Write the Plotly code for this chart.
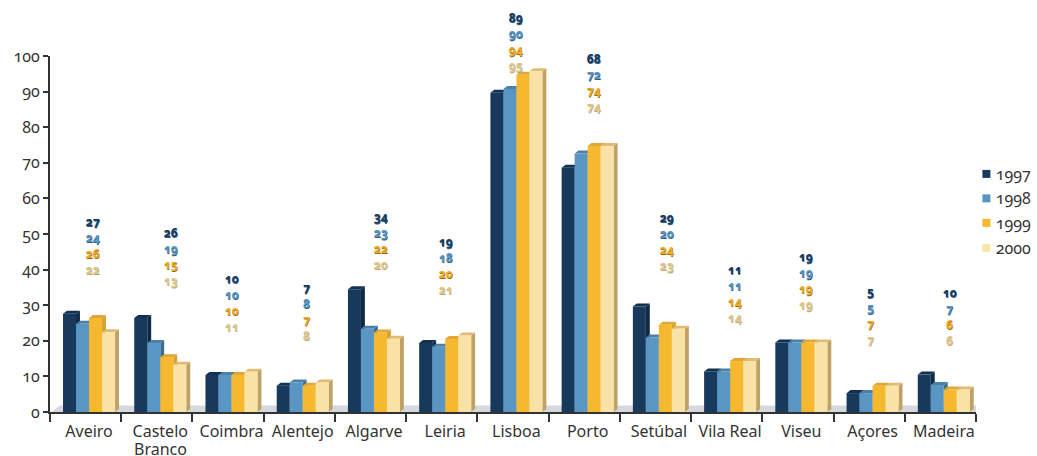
import plotly.graph_objects as go

categories = ["Aveiro", "Castelo", "Coimbra", "Alentejo", "Algarve", "Leiria", "Lisboa",
              "Porto", "Setúbal", "Vila Real", "Viseu", "Açores", "Madeira"]
years = ["1997", "1998", "1999", "2000"]

v1997 = [27.6, 26.4, 10.4, 7.4, 34.5, 19.4, 89.7, 68.6, 29.6, 11.4, 19.5, 5.3, 10.5]
v1998 = [24.8, 19.4, 10.4, 8.3, 23.4, 18.3, 90.7, 72.6, 20.9, 11.4, 19.5, 5.3, 7.6]
v1999 = [26.4, 15.4, 10.4, 7.4, 22.3, 20.5, 94.7, 74.7, 24.5, 14.3, 19.5, 7.4, 6.3]
v2000 = [22.4, 13.3, 11.3, 8.3, 20.6, 21.5, 95.7, 74.7, 23.4, 14.3, 19.5, 7.4, 6.3]
values = [v1997, v1998, v1999, v2000]

l1997 = [27, 26, 10, 7, 34, 19, 89, 68, 29, 11, 19, 5, 10]
l1998 = [24, 19, 10, 8, 23, 18, 90, 72, 20, 11, 19, 5, 7]
l1999 = [26, 15, 10, 7, 22, 20, 94, 74, 24, 14, 19, 7, 6]
l2000 = [22, 13, 11, 8, 20, 21, 95, 74, 23, 14, 19, 7, 6]
labels = [l1997, l1998, l1999, l2000]

label_x = [0.60, 1.70, 2.56, 3.60, 4.64, 5.56, 6.54, 7.64, 8.66, 9.61, 10.62, 11.52, 12.63]
label_top = [53.5, 50.4, 37.4, 34.9, 54.9, 47.8, 110.8, 99.2, 54.6, 40.0, 43.6, 33.8, 33.5]
LABEL_STEP = 4.49

FRONT = ["#16395c", "#5a96c3", "#f6b82e", "#f8e2a5"]
TOP = ["#12304f", "#4c80a8", "#e2a636", "#e0bb76"]
SIDE = ["#0f2a45", "#3f6c8f", "#d9a032", "#bfa263"]
LABEL_COL = ["#16395c", "#5a96c3", "#f0ab1e", "#dfc98f"]
LABEL_SHADOW = ["#3a5f85", "#33597a", "#8a6a20", "#b9a77a"]

BAR_W = 0.1826
GROUP_C = 0.548
DX = 0.055   # depth, category units
DY = 0.85    # depth, value units
FONT = "Noto Sans, Open Sans, sans-serif"
INK = "#333333"

fig = go.Figure()
xs = [i + GROUP_C for i in range(len(categories))]

# floor
fig.add_shape(type="path", xref="x", yref="y", layer="below", line_width=0, fillcolor="#d5d9de",
              path="M 0.02 0 L 0.14 1.85 L 13.14 1.85 L 13 0 Z")

for j, (yr, vals) in enumerate(zip(years, values)):
    off = (j - 1.5) * BAR_W
    fig.add_trace(go.Bar(x=xs, y=vals, width=BAR_W, offset=off - BAR_W / 2, name=yr,
                         marker=dict(color=FRONT[j], line_width=0), showlegend=False))
    for x, v in zip(xs, vals):
        x0 = x + off - BAR_W / 2
        x1 = x0 + BAR_W
        fig.add_shape(type="path", xref="x", yref="y", layer="below", line_width=0, fillcolor=SIDE[j],
                      path=f"M {x1} 0 L {x1} {v} L {x1 + DX} {v + DY} L {x1 + DX} {DY} Z")
        fig.add_shape(type="path", xref="x", yref="y", layer="below", line_width=0, fillcolor=TOP[j],
                      path=f"M {x0} {v} L {x1} {v} L {x1 + DX} {v + DY} L {x0 + DX} {v + DY} Z")
    for lx, t, n in zip(label_x, label_top, labels[j]):
        fig.add_annotation(xref="x", yref="paper", x=lx, y=(t - j * LABEL_STEP) / 100, text=str(n),
                           showarrow=False, xanchor="center", yanchor="middle",
                           font=dict(family=FONT, size=12, weight=700, color=LABEL_COL[j],
                                     shadow=f"0.5px 0.5px 0.5px {LABEL_SHADOW[j]}"))

# second line of the "Castelo Branco" category label
fig.add_annotation(xref="x", yref="paper", x=xs[1], y=(412.3 - 449.5) / 356.3, text="Branco",
                   showarrow=False, xanchor="center", yanchor="middle",
                   font=dict(family=FONT, size=16, color=INK))

# key
key_y = [174, 198.5, 223, 248]
for j, yr in enumerate(years):
    fig.add_shape(type="rect", xref="paper", yref="paper", line_width=0, fillcolor=FRONT[j],
                  x0=(982 - 50) / 925.6, x1=(990 - 50) / 925.6,
                  y0=(412.3 - key_y[j] - 4) / 356.3, y1=(412.3 - key_y[j] + 4) / 356.3)
    fig.add_annotation(xref="paper", yref="paper", x=(993 - 50) / 925.6, y=(412.3 - key_y[j]) / 356.3,
                       text=yr, showarrow=False, xanchor="left", yanchor="middle",
                       font=dict(family=FONT, size=16, color=INK))

fig.update_layout(
    width=1037, height=456, autosize=False,
    margin=dict(l=50, r=61.4, t=56, b=43.7, pad=0),
    paper_bgcolor="white", plot_bgcolor="rgba(0,0,0,0)",
    barmode="overlay", showlegend=False,
    font=dict(family=FONT, color=INK, size=15),
    xaxis=dict(range=[0, 13], tickmode="array", tickvals=xs, ticktext=categories, ticks="",
               ticklabelstandoff=4, showgrid=False, zeroline=False, showline=True, automargin=False,
               linecolor="#333333", linewidth=2, tickfont=dict(size=16, family=FONT, color=INK),
               minor=dict(tickmode="array", tickvals=list(range(14)), ticks="outside", ticklen=8,
                          tickwidth=1.5, tickcolor="#333333", showgrid=False)),
    yaxis=dict(range=[0, 100], tickmode="array", tickvals=list(range(0, 101, 10)), ticks="outside",
               ticklen=5, tickwidth=2, tickcolor="#333333", showgrid=False, zeroline=False, automargin=False,
               showline=True, linecolor="#333333", linewidth=2,
               tickfont=dict(size=16, family=FONT, color=INK)),
)

PAGE = ("document.body.style.margin='0';"
        "var s=document.createElement('style');"
        "s.textContent='svg text{font-feature-settings:\"onum\" 1;font-variant-numeric:oldstyle-nums;}';"
        "document.head.appendChild(s);")
fig.write_html("out.html", post_script=PAGE, config={"displayModeBar": False})
